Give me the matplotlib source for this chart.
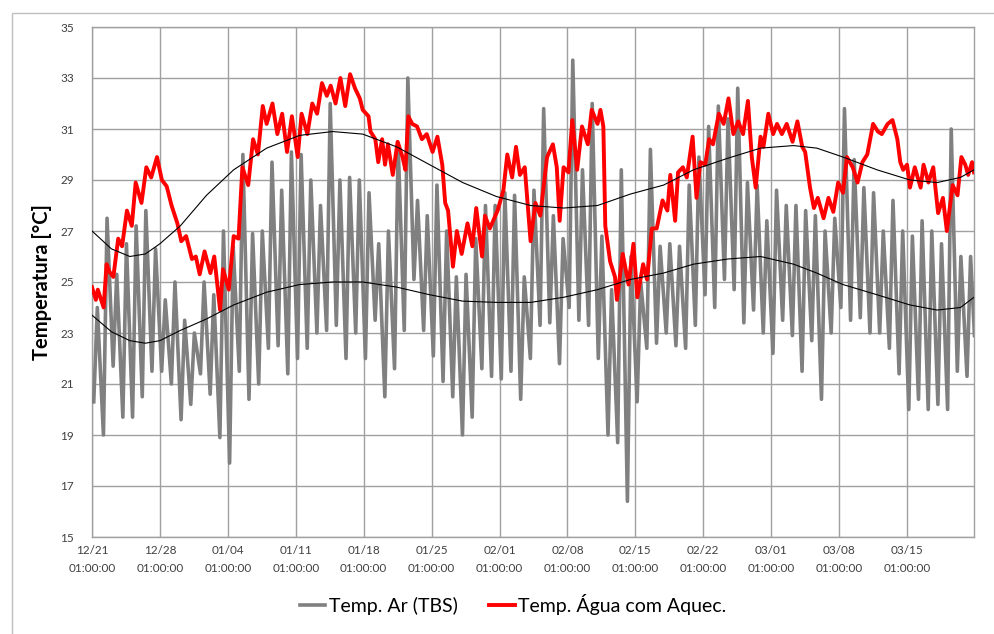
import matplotlib
matplotlib.use("Agg")
import matplotlib.pyplot as plt
from matplotlib.patches import Rectangle
import numpy as np

plt.rcParams['font.family'] = ['Lato', 'DejaVu Sans']

# x axis: days since 12/21 01:00:00
tick_days = [0, 7, 14, 21, 28, 35, 42, 49, 56, 63, 70, 77, 84]
tick_labels = ["12/21", "12/28", "01/04", "01/11", "01/18", "01/25", "02/01",
               "02/08", "02/15", "02/22", "03/01", "03/08", "03/15"]
tick_time = "01:00:00"

# air temperature (TBS): daily minimum and maximum
ar_min = [20.3, 19.0, 21.7, 19.7, 19.7, 20.5, 21.5, 21.5, 21.0, 19.6,
          20.2, 21.4, 20.6, 18.9, 17.9, 21.5, 20.4, 21.0, 22.4, 22.5,
          21.4, 22.0, 22.4, 23.0, 23.1, 23.3, 22.0, 23.0, 22.0, 23.5,
          20.5, 21.6, 23.1, 25.1, 23.1, 22.1, 21.1, 20.5, 19.0, 19.7,
          21.6, 21.3, 21.2, 21.5, 20.4, 22.0, 23.3, 23.4, 21.8, 24.0,
          23.5, 23.3, 22.0, 19.0, 18.7, 16.4, 20.3, 22.4, 22.6, 23.0,
          22.5, 22.4, 23.3, 24.5, 24.0, 25.1, 24.7, 23.4, 23.9, 23.0,
          22.2, 23.5, 22.9, 21.5, 22.7, 20.4, 23.0, 24.0, 23.5, 23.6,
          23.0, 23.0, 22.4, 21.4, 20.0, 20.4, 20.0, 20.2, 20.0, 21.5,
          21.3]
ar_max = [24.0, 27.5, 25.3, 26.5, 27.2, 27.8, 26.3, 24.3, 25.0, 23.5,
          23.0, 25.0, 24.5, 27.0, 26.4, 30.0, 26.9, 27.0, 29.7, 28.6,
          30.1, 30.0, 29.0, 28.0, 32.0, 29.0, 29.1, 29.0, 28.5, 26.5,
          27.0, 30.4, 33.0, 28.2, 27.6, 28.8, 27.0, 25.2, 25.3, 26.7,
          28.0, 28.0, 28.5, 28.4, 25.2, 28.6, 31.8, 27.6, 26.7, 33.7,
          29.4, 32.0, 26.8, 24.7, 29.4, 26.0, 25.0, 30.2, 26.4, 26.5,
          26.4, 28.8, 29.9, 31.1, 31.9, 31.4, 32.6, 28.9, 28.8, 27.4,
          28.6, 28.0, 28.0, 27.8, 27.6, 27.0, 27.5, 31.8, 29.8, 28.7,
          28.5, 27.0, 28.2, 27.0, 26.8, 27.4, 27.0, 26.5, 31.0, 26.0,
          26.0]
ar_end = 22.9

# heated water temperature, (day, value)
agua_day = [0.0, 0.4, 0.6, 1.2, 1.5, 1.8, 2.2, 2.7, 3.1, 3.6, 4.1, 4.5, 5.1,
            5.6, 6.1, 6.7, 7.2, 7.7, 8.2, 8.8, 9.2, 9.7, 10.3, 10.7, 11.1,
            11.6, 12.2, 12.6, 13.2, 13.5, 14.1, 14.6, 15.1, 15.5, 16.1, 16.6,
            17.1, 17.6, 18.0, 18.6, 19.1, 19.6, 20.1, 20.6, 21.2, 21.6, 22.2,
            22.7, 23.2, 23.7, 24.2, 24.6, 25.1, 25.6, 26.1, 26.6, 27.1, 27.6,
            27.9, 28.5, 28.7, 29.2, 29.5, 29.9, 30.2, 30.5, 31.0, 31.5, 32.0,
            32.3, 32.6, 33.0, 33.5, 34.0, 34.5, 35.1, 35.6, 36.1, 36.4, 36.7,
            37.2, 37.6, 38.1, 38.7, 39.2, 39.6, 40.2, 40.5, 41.0, 41.8, 42.4,
            42.8, 43.3, 43.7, 44.1, 44.6, 45.2, 45.7, 46.2, 46.9, 47.5, 47.9,
            48.2, 48.6, 49.1, 49.5, 50.0, 50.5, 51.1, 51.5, 52.1, 52.4, 52.7,
            52.9, 53.4, 53.9, 54.1, 54.7, 55.3, 55.8, 56.2, 56.8, 57.2, 57.7,
            58.2, 58.8, 59.3, 59.6, 60.1, 60.4, 60.9, 61.3, 61.9, 62.3, 62.7,
            63.2, 63.6, 64.0, 64.6, 65.1, 65.6, 66.1, 66.6, 67.1, 67.6, 68.0,
            68.4, 68.9, 69.2, 69.7, 70.2, 70.6, 71.1, 71.6, 72.2, 72.7, 73.2,
            73.5, 74.0, 74.4, 74.8, 75.4, 75.9, 76.4, 76.9, 77.4, 77.8, 78.4,
            78.9, 79.4, 79.9, 80.5, 81.0, 81.4, 82.0, 82.5, 83.0, 83.3, 83.6,
            84.0, 84.3, 84.8, 85.4, 85.7, 86.2, 86.7, 87.2, 87.7, 88.1, 88.7,
            89.2, 89.6, 90.0, 90.3, 90.7, 90.9]
agua_val = [24.8, 24.3, 24.7, 24.0, 25.7, 25.4, 25.2, 26.7, 26.4, 27.8, 27.2,
            28.9, 28.1, 29.5, 29.1, 29.9, 29.0, 28.75, 28.0, 27.3, 26.6, 26.8,
            25.9, 26.0, 25.3, 26.2, 25.35, 26.0, 23.9, 25.5, 24.7, 26.8, 26.7,
            29.5, 28.8, 30.6, 30.0, 31.9, 31.2, 32.0, 30.8, 31.6, 30.1, 31.5,
            29.9, 31.6, 30.8, 32.0, 31.6, 32.8, 32.3, 32.7, 32.0, 33.0, 31.9,
            33.15, 32.6, 32.2, 31.75, 31.5, 30.9, 30.6, 29.7, 30.6, 29.6, 30.4,
            29.2, 30.5, 29.9, 29.4, 31.5, 31.2, 31.1, 30.6, 30.8, 30.1, 30.7,
            29.6, 28.1, 27.8, 25.6, 27.0, 26.1, 27.3, 26.4, 27.9, 26.0, 27.6,
            27.1, 27.8, 28.6, 30.0, 29.1, 30.3, 29.2, 29.5, 26.6, 28.1, 27.6,
            29.9, 30.4, 29.5, 27.4, 29.5, 29.3, 31.35, 29.4, 31.1, 30.4, 31.75,
            31.2, 31.75, 31.1, 27.2, 25.8, 25.2, 24.3, 26.1, 24.9, 26.5, 24.4,
            25.7, 25.1, 27.1, 27.1, 28.2, 27.8, 29.2, 27.4, 29.3, 29.5, 29.1,
            30.7, 28.3, 29.7, 29.6, 30.6, 30.4, 31.6, 31.2, 32.2, 30.8, 31.3,
            30.8, 32.1, 29.9, 28.7, 30.7, 30.3, 31.6, 30.8, 31.2, 30.8, 31.2,
            30.5, 31.3, 30.3, 30.1, 28.7, 27.9, 28.3, 27.5, 28.3, 27.75, 28.9,
            28.5, 29.9, 29.5, 28.9, 29.7, 30.0, 31.2, 30.9, 30.8, 31.2, 31.35,
            30.6, 29.7, 29.4, 29.6, 28.7, 29.5, 28.7, 29.6, 28.9, 29.5, 27.7,
            28.3, 27.0, 28.8, 28.4, 29.9, 29.6, 29.2, 29.7, 29.3]

# trend curves (upper: water, lower: air)
trend_day = [0.0, 2.0, 3.9, 5.5, 7.0, 9.1, 11.8, 14.6, 18.0, 21.4, 24.8, 27.9,
             31.4, 34.8, 38.2, 41.7, 45.2, 48.6, 52.1, 55.5, 58.9, 62.0, 65.5,
             68.9, 72.3, 74.7, 77.4, 80.9, 84.3, 87.1, 89.5, 90.9]
trend_agua = [27.0, 26.3, 26.0, 26.1, 26.5, 27.2, 28.4, 29.4, 30.25, 30.75,
              30.9, 30.8, 30.3, 29.6, 28.9, 28.35, 28.0, 27.9, 28.0, 28.45,
              28.8, 29.4, 29.85, 30.25, 30.35, 30.25, 29.9, 29.4, 29.0, 28.9,
              29.1, 29.4]
trend_ar = [23.7, 23.05, 22.7, 22.6, 22.7, 23.1, 23.55, 24.1, 24.6, 24.9,
            25.0, 25.0, 24.8, 24.5, 24.25, 24.2, 24.2, 24.4, 24.7, 25.1,
            25.35, 25.7, 25.9, 26.0, 25.7, 25.35, 24.9, 24.5, 24.1, 23.9,
            24.0, 24.4]

MIN_FRAC = 0.18   # time of day of the minimum (fraction of day after 01:00)
MAX_FRAC = 0.55

ar_t = []
ar_v = []
for d in range(len(ar_min)):
    ar_t += [d + MIN_FRAC, d + MAX_FRAC]
    ar_v += [ar_min[d], ar_max[d]]
ar_t.append(len(ar_min) - 0.05)
ar_v.append(ar_end)

fig = plt.figure(figsize=(9.95, 6.34), dpi=100)
ax = fig.add_axes([92/995, 1 - 537/634, (974 - 92)/995, (537 - 27)/634])

grid_c = '#a0a0a0'
ax.plot(ar_t, ar_v, color='#808080', lw=2.6, solid_joinstyle='round',
        label='Temp. Ar (TBS)', zorder=3)
ax.plot(agua_day, agua_val, color='#ff0000', lw=2.8, solid_joinstyle='round',
        label='Temp. Água com Aquec.', zorder=4)
ax.plot(trend_day, trend_agua, color='black', lw=0.8, zorder=5)
ax.plot(trend_day, trend_ar, color='black', lw=0.8, zorder=5)

ax.set_xlim(0, 90.9)
ax.set_ylim(15, 35)
ax.set_yticks(np.arange(15, 36, 2))
ax.set_xticks(tick_days)
ax.set_xticklabels([lab + "\n" + tick_time for lab in tick_labels],
                   linespacing=1.7)
ax.tick_params(axis='both', length=0, labelsize=8.5, labelcolor='#404040')
ax.tick_params(axis='x', pad=6)
ax.tick_params(axis='y', pad=13)
ax.grid(True, color=grid_c, lw=1.0)
ax.set_axisbelow(True)
for s in ax.spines.values():
    s.set_color(grid_c)
    s.set_linewidth(1.0)

ax.set_ylabel('Temperatura [°C]', fontsize=14.5, fontweight='bold', labelpad=6)

fig.legend(loc='center', bbox_to_anchor=(0.516, 0.047), ncol=2, frameon=False,
           fontsize=14, handlelength=1.3, handletextpad=0.2, columnspacing=1.6)

fig.add_artist(Rectangle((12/995, -0.05), 1.0, 1 - 13/634 + 0.05,
                         transform=fig.transFigure, fill=False,
                         edgecolor='#bfbfbf', lw=1.0))

fig.savefig('out.png', dpi=100)
